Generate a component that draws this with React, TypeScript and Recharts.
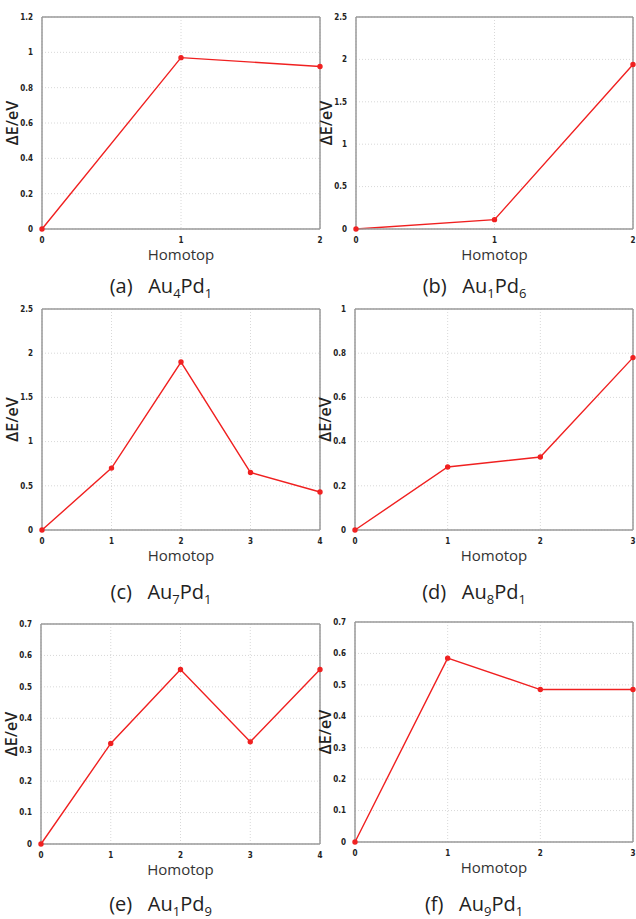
import React from 'react';
import { LineChart, Line, XAxis, YAxis, CartesianGrid, ReferenceLine } from 'recharts';

// ΔE values per homotop index
const au4pd1 = [0, 0.97, 0.92];
const au1pd6 = [0, 0.11, 1.94];
const au7pd1 = [0, 0.7, 1.9, 0.65, 0.43];
const au8pd1 = [0, 0.285, 0.33, 0.78];
const au1pd9 = [0, 0.32, 0.555, 0.325, 0.555];
const au9pd1 = [0, 0.585, 0.485, 0.485];

const ticksA = [0, 0.2, 0.4, 0.6, 0.8, 1, 1.2];
const ticksB = [0, 0.5, 1, 1.5, 2, 2.5];
const ticksD = [0, 0.2, 0.4, 0.6, 0.8, 1];
const ticksE = [0, 0.1, 0.2, 0.3, 0.4, 0.5, 0.6, 0.7];

const RED = '#f02020';
const FRAME = '#9a9a9a';
const tickFont = {
  fontSize: 8,
  fill: '#222',
  fontWeight: 600,
  fontFamily: '"Liberation Sans Narrow", "DejaVu Sans Condensed", sans-serif',
};
const labelFont = 'Open Sans, sans-serif';

type Box = { l: number; t: number; r: number; b: number };

type PanelProps = {
  values: number[];
  yTicks: number[];
  box: Box;
  letter: string;
  a: string;
  b: string;
  captionY: number;
};

const Y_W = 40;
const X_H = 40;

const Panel: React.FC<PanelProps> = ({ values, yTicks, box, letter, a, b, captionY }) => {
  const data = values.map((v, i) => ({ x: i, v }));
  const n = values.length - 1;
  const xTicks = values.map((_, i) => i);
  const yMax = yTicks[yTicks.length - 1];
  const left = box.l - Y_W - 4;
  const top = box.t - 4;
  const width = box.r - left + 4;
  const height = box.b - top + X_H;
  return (
    <>
      <div style={{ position: 'absolute', left, top }}>
        <LineChart
          width={width}
          height={height}
          data={data}
          margin={{ top: 4, right: 4, bottom: 0, left: 4 }}
        >
          <CartesianGrid stroke="#d8d8d8" strokeDasharray="1 2" />
          <XAxis
            dataKey="x"
            type="number"
            domain={[0, n]}
            ticks={xTicks}
            tick={tickFont}
            tickLine={false}
            tickMargin={2}
            height={X_H}
            axisLine={{ stroke: FRAME, strokeWidth: 1.5 }}
            label={{
              value: 'Homotop',
              position: 'insideBottom',
              offset: 9,
              style: { fontSize: 15, fill: '#333', fontFamily: labelFont },
            }}
          />
          <YAxis
            type="number"
            domain={[0, yMax]}
            ticks={yTicks}
            tick={tickFont}
            tickLine={false}
            tickMargin={3}
            width={Y_W}
            axisLine={{ stroke: FRAME, strokeWidth: 1.5 }}
            label={{
              value: 'ΔE/eV',
              angle: -90,
              position: 'insideLeft',
              offset: 10,
              style: {
                fontSize: 16,
                fontWeight: 600,
                fill: '#222',
                fontFamily: labelFont,
                textAnchor: 'middle',
              },
            }}
          />
          <ReferenceLine y={yMax} stroke={FRAME} strokeWidth={1.5} />
          <ReferenceLine x={n} stroke={FRAME} strokeWidth={1.5} />
          <Line
            type="linear"
            dataKey="v"
            stroke={RED}
            strokeWidth={1.4}
            dot={{ r: 2, fill: RED, stroke: RED }}
            isAnimationActive={false}
          />
        </LineChart>
      </div>
      <div
        style={{
          position: 'absolute',
          left: box.l - 80,
          width: box.r - box.l + 120,
          top: captionY - 12,
          lineHeight: '22px',
          textAlign: 'center',
          fontFamily: labelFont,
          fontSize: 20,
          color: '#222',
          whiteSpace: 'pre',
        }}
      >
        {`(${letter})   Au`}
        <sub style={{ fontSize: 13, lineHeight: 0 }}>{a}</sub>
        Pd
        <sub style={{ fontSize: 13, lineHeight: 0 }}>{b}</sub>
      </div>
    </>
  );
};

export default function App() {
  return (
    <div
      style={{
        position: 'absolute',
        left: 0,
        top: 0,
        width: 636,
        height: 919,
        background: '#fff',
        overflow: 'hidden',
      }}
    >
      <Panel values={au4pd1} yTicks={ticksA} box={{ l: 42, t: 17, r: 320, b: 229 }} letter="a" a="4" b="1" captionY={287} />
      <Panel values={au1pd6} yTicks={ticksB} box={{ l: 356, t: 17, r: 633, b: 229 }} letter="b" a="1" b="6" captionY={287} />
      <Panel values={au7pd1} yTicks={ticksB} box={{ l: 42, t: 309, r: 320, b: 530 }} letter="c" a="7" b="1" captionY={593} />
      <Panel values={au8pd1} yTicks={ticksD} box={{ l: 355, t: 309, r: 633, b: 530 }} letter="d" a="8" b="1" captionY={593} />
      <Panel values={au1pd9} yTicks={ticksE} box={{ l: 41, t: 624, r: 320, b: 844 }} letter="e" a="1" b="9" captionY={905} />
      <Panel values={au9pd1} yTicks={ticksE} box={{ l: 355, t: 622, r: 633, b: 842 }} letter="f" a="9" b="1" captionY={905} />
    </div>
  );
}
